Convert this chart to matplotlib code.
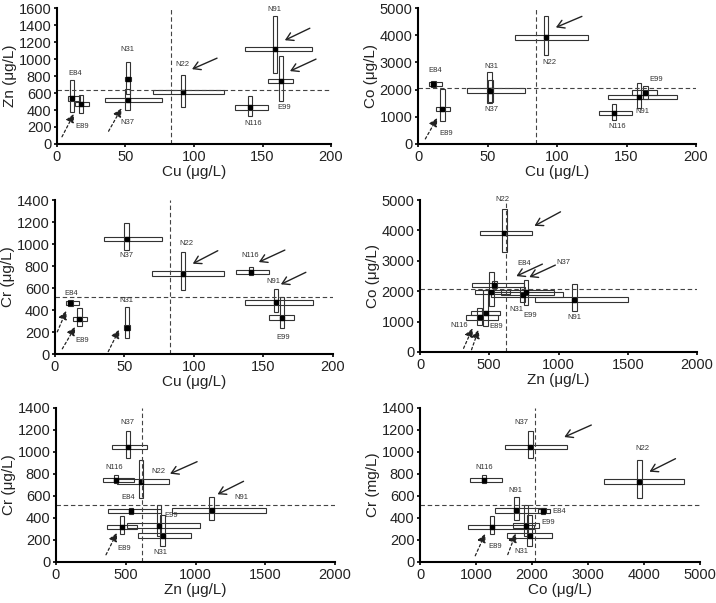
import numpy as np
import matplotlib.pyplot as plt
from matplotlib.patches import Rectangle
from matplotlib.transforms import offset_copy

plt.rcParams['font.family'] = ['Liberation Sans', 'DejaVu Sans']

samples = ['E84', 'E89', 'N31', 'N37', 'N22', 'N91', 'N116', 'E99']

# mean, lower and upper value of each metal (ug/L)
cu_mean = [11, 17.5, 52, 51.5, 92, 159, 141, 163.5]
cu_low = [8, 13, 50, 35, 70, 137, 130, 154]
cu_high = [17, 23, 54, 77, 122, 186, 154, 172]

zn_mean = [537, 473, 764, 515, 610, 1115, 430, 740]
zn_low = [375, 365, 585, 400, 435, 830, 335, 510]
zn_high = [750, 580, 970, 650, 810, 1505, 560, 1030]

co_mean = [2200, 1290, 1960, 1970, 3920, 1720, 1140, 1890]
co_low = [2100, 850, 1560, 1525, 3290, 1340, 890, 1660]
co_high = [2320, 2040, 2360, 2630, 4710, 2250, 1460, 2130]

cr_mean = [465, 320, 240, 1045, 730, 470, 745, 330]
cr_low = [440, 255, 145, 945, 580, 380, 715, 235]
cr_high = [495, 420, 425, 1195, 930, 590, 790, 515]

# reference (dashed) lines for each panel
ref_cu = 83
ref_zn = 620
ref_co = 2070
ref_cr = 515

metals = {
    'Cu': (cu_mean, cu_low, cu_high),
    'Zn': (zn_mean, zn_low, zn_high),
    'Co': (co_mean, co_low, co_high),
    'Cr': (cr_mean, cr_low, cr_high),
}
refs = {'Cu': ref_cu, 'Zn': ref_zn, 'Co': ref_co, 'Cr': ref_cr}

panels = [
    dict(x='Cu', y='Zn', rect=[0.0796, 0.7612, 0.3827, 0.2255], xmax=200, ymax=1600,
         xstep=50, ystep=200, yref=640, ylabel='Zn (μg/L)',
         labels={'E84': (3, 25), 'E89': (1, -23), 'N31': (-1, 30), 'N37': (0, -22),
                 'N22': (-1, 28), 'N91': (0, 40), 'E99': (3, -26), 'N116': (3, -16)},
         arrows=[('N22', 's', 9, 23, 25, 11), ('N91', 's', 10, 9, 25, 12),
                 ('E99', 's', 9, 10, 26, 12), ('E89', 'd', -7, -10, -12, -23),
                 ('N37', 'd', -6, -8, -13, -23)]),
    dict(x='Cu', y='Co', rect=[0.5838, 0.7612, 0.3883, 0.2255], xmax=200, ymax=5000,
         xstep=50, ystep=1000, xref=85, ylabel='Co (μg/L)',
         labels={'E84': (2, 14), 'E89': (4, -25), 'N31': (1, 24), 'N37': (2, -19),
                 'N22': (3, -25), 'N91': (3, -14), 'E99': (11, 13), 'N116': (3, -14)},
         arrows=[('N22', 's', 10, 10, 26, 11), ('E89', 'd', -5, -9, -12, -21)]),
    dict(x='Cu', y='Cr', rect=[0.0768, 0.4129, 0.388, 0.2554], xmax=200, ymax=1400,
         xstep=50, ystep=200, ylabel='Cr (μg/L)',
         labels={'N37': (0, -16), 'N22': (4, 30), 'N116': (-1, 17), 'N91': (-2, 21),
                 'E99': (1, -20), 'E84': (1, 9), 'E89': (3, -22), 'N31': (-1, 27)},
         arrows=[('N22', 's', 10, 10, 25, 13), ('N116', 's', 8, 10, 26, 12),
                 ('N91', 's', 5, 18, 25, 12), ('E84', 'd', -4, -8, -9, -21),
                 ('E89', 'd', -4, -8, -13, -22), ('N31', 'd', -8, -2, -11, -22)]),
    dict(x='Zn', y='Co', rect=[0.5866, 0.4163, 0.3869, 0.252], xmax=2000, ymax=5000,
         xstep=500, ystep=1000, ylabel='Co (μg/L)',
         labels={'N22': (-2, 33), 'E84': (30, 22), 'N37': (72, 30), 'N31': (-9, -17),
                 'E99': (8, -21), 'N91': (0, -18), 'N116': (-20, -8), 'E89': (11, -14)},
         arrows=[('N22', 's', 30, 7, 26, 14), ('E84', 's', 22, 9, 26, 12),
                 ('N37', 's', 38, 15, 26, 12), ('N116', 'd', -7, -11, -9, -20),
                 ('E89', 'd', -7, -17, -7, -20)]),
    dict(x='Zn', y='Cr', rect=[0.0782, 0.068, 0.3897, 0.2554], xmax=2000, ymax=1400,
         xstep=500, ystep=200, ylabel='Cr (μg/L)',
         labels={'N37': (0, 25), 'N116': (-2, 13), 'N22': (17, 10), 'N91': (30, 13),
                 'E84': (-3, 13), 'E99': (12, 10), 'E89': (2, -22), 'N31': (-2, -17)},
         arrows=[('N22', 's', 29, 8, 27, 12), ('N91', 's', 6, 16, 26, 13),
                 ('E89', 'd', -5, -6, -11, -22)]),
    dict(x='Co', y='Cr', rect=[0.5866, 0.068, 0.391, 0.2554], xmax=5000, ymax=1400,
         xstep=1000, ystep=200, xref=2050, ylabel='Cr (mg/L)',
         labels={'N37': (-9, 25), 'N22': (3, 33), 'N116': (0, 13), 'N91': (-1, 20),
                 'E84': (16, -1), 'E99': (22, 3), 'E89': (3, -20), 'N31': (-8, -16)},
         arrows=[('N37', 's', 34, 10, 27, 12), ('N22', 's', 10, 10, 26, 13),
                 ('E89', 'd', -7, -7, -10, -22), ('N31', 'd', -14, 2, -8, -21)]),
]

fig = plt.figure(figsize=(7.16, 6.03), dpi=100)
W, H = 716, 603
thick = 4.5  # box thickness in pixels
box_col = '#333333'

for p in panels:
    ax = fig.add_axes(p['rect'])
    xm, xl, xh = metals[p['x']]
    ym, yl, yh = metals[p['y']]
    ax.set_xlim(0, p['xmax'])
    ax.set_ylim(0, p['ymax'])
    # data units per pixel
    dx = p['xmax'] / (p['rect'][2] * W)
    dy = p['ymax'] / (p['rect'][3] * H)

    for i in range(len(samples)):
        ax.add_patch(Rectangle((xl[i], ym[i] - thick * dy / 2), xh[i] - xl[i], thick * dy,
                               fill=False, ec=box_col, lw=0.8))
        ax.add_patch(Rectangle((xm[i] - thick * dx / 2, yl[i]), thick * dx, yh[i] - yl[i],
                               fill=False, ec=box_col, lw=0.8))
    ax.plot(xm, ym, 's', color='black', ms=3, ls='none')

    ax.axvline(p.get('xref', refs[p['x']]), color='#444444', ls=(0, (4, 2.5)), lw=0.8)
    ax.axhline(p.get('yref', refs[p['y']]), color='#444444', ls=(0, (4, 2.5)), lw=0.8)

    for name, (ox, oy) in p['labels'].items():
        i = samples.index(name)
        ax.annotate(name, (xm[i], ym[i]), xytext=(ox, oy), textcoords='offset pixels',
                    ha='center', va='center', fontsize=5.5, color='#333333',
                    annotation_clip=False)

    for name, kind, hx, hy, tx, ty in p['arrows']:
        i = samples.index(name)
        tr = offset_copy(ax.transData, fig=fig, x=hx, y=hy, units='dots')
        if kind == 's':
            props = dict(arrowstyle='->, head_length=0.5, head_width=0.3', lw=1.0,
                         color='#222222', shrinkA=0, shrinkB=0)
        else:
            props = dict(arrowstyle='-|>, head_length=0.5, head_width=0.25', lw=0.9,
                         ls=(0, (2, 2)), color='#222222', shrinkA=0, shrinkB=0)
        ax.annotate('', xy=(xm[i], ym[i]), xycoords=tr, xytext=(tx, ty),
                    textcoords='offset pixels', arrowprops=props, annotation_clip=False)

    ax.set_xticks(np.arange(0, p['xmax'] + 1, p['xstep']))
    ax.set_yticks(np.arange(0, p['ymax'] + 1, p['ystep']))
    ax.spines['top'].set_visible(False)
    ax.spines['right'].set_visible(False)
    ax.spines['left'].set_linewidth(1.5)
    ax.spines['bottom'].set_linewidth(1.5)
    ax.tick_params(direction='out', length=2.5, width=1.2, pad=1.5, labelsize=10.5,
                   labelcolor='#222222')
    ax.set_xlabel(p['x'] + ' (μg/L)', fontsize=11, color='#222222', labelpad=1)
    ax.set_ylabel(p['ylabel'], fontsize=11, color='#222222', labelpad=1)

fig.savefig('out.png', dpi=100)
